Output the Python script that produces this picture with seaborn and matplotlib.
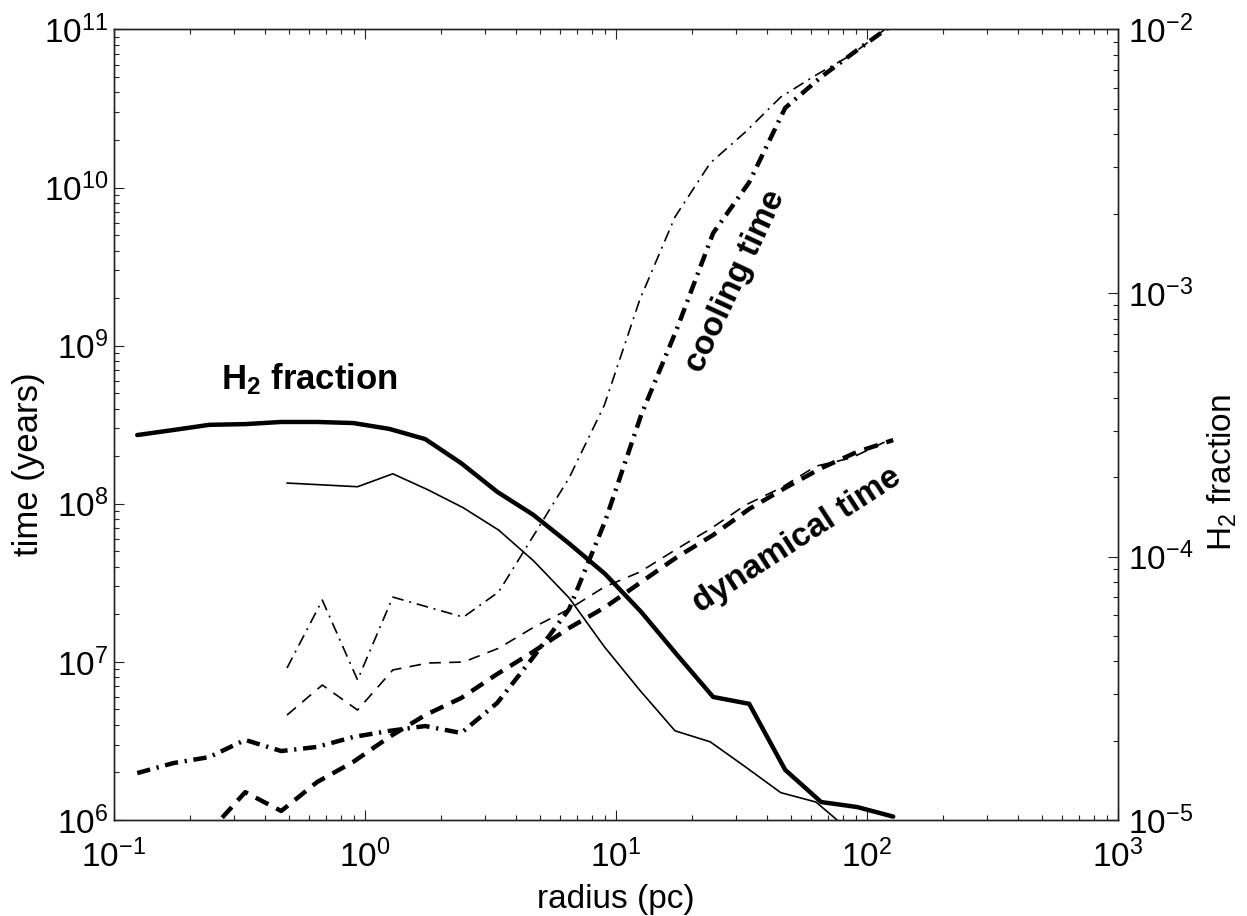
import matplotlib
matplotlib.use("Agg")
import matplotlib.pyplot as plt
import numpy as np
import pandas as pd
import seaborn as sns
from matplotlib.ticker import LogLocator, LogFormatterSciNotation, NullFormatter

sns.set_theme(style="ticks")
plt.rcParams["font.family"] = ["Liberation Sans", "DejaVu Sans"]
plt.rcParams["mathtext.default"] = "regular"
plt.rcParams["axes.unicode_minus"] = True
plt.rcParams["text.color"] = "black"
plt.rcParams["axes.labelcolor"] = "black"

# ---- profile data: run A (thick lines) ----
radius_A = [0.1238, 0.1722, 0.2396, 0.3333, 0.4637, 0.6451, 0.8975, 1.249, 1.737,
            2.417, 3.362, 4.678, 6.508, 9.054, 12.60, 17.52, 24.38, 33.92, 47.19,
            65.65, 91.34, 127.1]
tcool_A = [1.98e6, 2.29e6, 2.50e6, 3.21e6, 2.73e6, 2.90e6, 3.35e6, 3.66e6, 3.93e6,
           3.55e6, 5.50e6, 1.07e7, 2.16e7, 7.78e7, 3.65e8, 1.29e9, 5.16e9, 1.08e10,
           3.19e10, 5.01e10, 7.41e10, 1.08e11]
tdyn_A = [7.0e5, 7.5e5, 8.4e5, 1.50e6, 1.14e6, 1.74e6, 2.33e6, 3.35e6, 4.61e6,
          5.91e6, 8.38e6, 1.16e7, 1.64e7, 2.22e7, 3.20e7, 4.61e7, 6.35e7, 9.27e7,
          1.26e8, 1.68e8, 2.13e8, 2.53e8]
h2_A = [2.89e-4, 3.02e-4, 3.16e-4, 3.18e-4, 3.24e-4, 3.24e-4, 3.21e-4, 3.05e-4,
        2.79e-4, 2.26e-4, 1.76e-4, 1.44e-4, 1.12e-4, 8.58e-5, 6.16e-5, 4.23e-5,
        2.93e-5, 2.76e-5, 1.55e-5, 1.17e-5, 1.12e-5, 1.03e-5]

# ---- profile data: run B (thin lines) ----
radius_B = [0.489, 0.676, 0.934, 1.291, 1.784, 2.466, 3.407, 4.709, 6.508, 8.993,
            12.43, 17.18, 23.73, 32.80, 45.33, 62.61, 86.52, 119.6]
tcool_B = [9.15e6, 2.46e7, 7.69e6, 2.57e7, 2.22e7, 1.92e7, 2.77e7, 6.35e7, 1.46e8,
           4.22e8, 1.95e9, 6.52e9, 1.43e10, 2.25e10, 3.74e10, 5.15e10, 6.90e10, 1.02e11]
tdyn_B = [4.61e6, 7.14e6, 4.96e6, 8.89e6, 9.84e6, 9.98e6, 1.22e7, 1.66e7, 2.16e7,
          2.98e7, 3.70e7, 5.10e7, 6.93e7, 9.82e7, 1.26e8, 1.73e8, 1.95e8, 2.49e8]
h2_B = [1.90e-4, 1.87e-4, 1.84e-4, 2.06e-4, 1.79e-4, 1.53e-4, 1.26e-4, 9.6e-5,
        6.96e-5, 4.54e-5, 3.11e-5, 2.18e-5, 1.98e-5, 1.59e-5, 1.27e-5, 1.17e-5,
        9.0e-6, 7.5e-6]

run_A = pd.DataFrame({"radius": radius_A, "tcool": tcool_A, "tdyn": tdyn_A, "h2": h2_A})
run_B = pd.DataFrame({"radius": radius_B, "tcool": tcool_B, "tdyn": tdyn_B, "h2": h2_B})

fig = plt.figure(figsize=(12.47, 9.16), dpi=100)
ax = fig.add_axes([0.0914, 0.1048, 0.8052, 0.863])
ax.set_xscale("log")
ax.set_yscale("log")
ax2 = ax.twinx()
ax2.set_yscale("log")

thick, thin = 3.2, 1.2
dash_thick = (0, (3.2, 2.0))
dash_thin = (0, (7.0, 5.0))
dashdot_thick = (0, (3.0, 1.5, 0.5, 1.5))
dashdot_thin = (0, (7.0, 3.5, 1.2, 3.5))

common = dict(estimator=None, sort=True, color="black", legend=False)
sns.lineplot(data=run_A, x="radius", y="tcool", ax=ax, lw=thick, linestyle=dashdot_thick, **common)
sns.lineplot(data=run_B, x="radius", y="tcool", ax=ax, lw=thin, linestyle=dashdot_thin, **common)
sns.lineplot(data=run_A, x="radius", y="tdyn", ax=ax, lw=thick, linestyle=dash_thick, **common)
sns.lineplot(data=run_B, x="radius", y="tdyn", ax=ax, lw=thin, linestyle=dash_thin, **common)
sns.lineplot(data=run_A, x="radius", y="h2", ax=ax2, lw=thick, linestyle="-", **common)
sns.lineplot(data=run_B, x="radius", y="h2", ax=ax2, lw=thin, linestyle="-", **common)

ax.set_xlim(0.1, 1000)
ax.set_ylim(1e6, 1e11)
ax2.set_ylim(1e-5, 1e-2)

for a in (ax, ax2):
    a.xaxis.set_major_locator(LogLocator(base=10, numticks=20))
    a.xaxis.set_minor_locator(LogLocator(base=10, subs=np.arange(2, 10), numticks=20))
    a.yaxis.set_major_locator(LogLocator(base=10, numticks=20))
    a.yaxis.set_minor_locator(LogLocator(base=10, subs=np.arange(2, 10), numticks=20))
    a.xaxis.set_major_formatter(LogFormatterSciNotation())
    a.yaxis.set_major_formatter(LogFormatterSciNotation())
    a.xaxis.set_minor_formatter(NullFormatter())
    a.yaxis.set_minor_formatter(NullFormatter())
    for s in a.spines.values():
        s.set_linewidth(1.0)
        s.set_color("#222222")
    a.grid(False)

ax.tick_params(axis="both", which="both", direction="in", top=True, right=False,
               labelsize=24, width=0.8, colors="#222222", labelcolor="black")
ax.tick_params(which="major", length=7.5)
ax.tick_params(which="minor", length=3.8)
ax.tick_params(axis="x", pad=14)
ax.tick_params(axis="y", pad=4)
ax2.tick_params(axis="y", which="both", direction="in", right=True, left=False,
                labelsize=24, width=0.8, colors="#222222", labelcolor="black", pad=7)
ax2.tick_params(which="major", length=7.5)
ax2.tick_params(which="minor", length=3.8)

ax.set_xlabel("radius (pc)", fontsize=24)
ax.set_ylabel("time (years)", fontsize=25)
ax2.set_ylabel("H$_2$ fraction", fontsize=24)
ax.xaxis.set_label_coords(0.5, -0.081)
ax.yaxis.set_label_coords(-0.069, 0.45)
ax2.yaxis.set_label_coords(1.087, 0.44)

ax.text(0.60, 6.1e8, "H$_2$ fraction", fontsize=25, fontweight="bold",
        ha="center", va="center")
ax.text(29.9, 2.57e9, "cooling time", fontsize=24, fontweight="bold",
        ha="center", va="center", rotation=65, rotation_mode="anchor")
ax.text(52.4, 5.9e7, "dynamical time", fontsize=24, fontweight="bold",
        ha="center", va="center", rotation=33, rotation_mode="anchor")

fig.savefig("out.png", dpi=100, facecolor="white")
